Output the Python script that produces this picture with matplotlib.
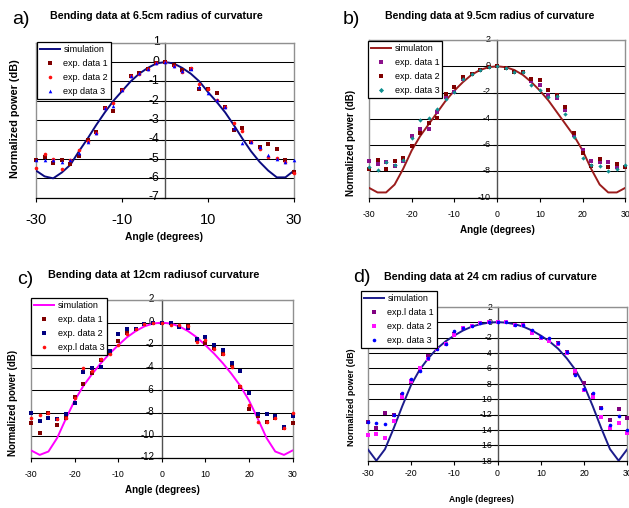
import matplotlib
matplotlib.use("Agg")
import matplotlib.pyplot as plt
from matplotlib.lines import Line2D
from matplotlib.transforms import ScaledTranslation

plt.rcParams['font.family'] = ['Liberation Sans', 'DejaVu Sans']

W, H = 629, 508

angles = list(range(-30, 31, 2))

# ---------------- panel a ----------------
sim_a = [-5.6, -5.9, -6.0, -5.7, -5.3, -4.6, -3.95, -3.25, -2.6, -2.0, -1.5, -1.0, -0.6, -0.3, -0.07, 0.0,
         -0.07, -0.3, -0.6, -1.0, -1.55, -2.05, -2.6, -3.25, -3.95, -4.6, -5.15, -5.6, -5.95, -5.95, -5.6]
a_exp1 = [-5.05, -4.9, -5.2, -5.05, -5.25, -4.85, -4.0, -3.6, -2.35, -2.5, -1.45, -0.72, -0.58, -0.36, -0.07, 0.0,
          -0.15, -0.4, -0.36, -1.4, -1.4, -1.62, -2.3, -3.5, -3.42, -4.1, -4.37, -4.23, -4.5, -5.03, -5.65]
a_exp2 = [-5.45, -4.75, -5.0, -5.5, -5.03, -4.55, -4.05, -3.65, -2.35, -2.1, -1.45, -0.72, -0.6, -0.36, -0.07, 0.0,
          -0.2, -0.5, -0.33, -1.15, -1.38, -1.95, -2.3, -3.17, -3.56, -4.15, -4.47, -4.9, -4.95, -5.15, -5.75]
a_exp3 = [-5.03, -5.03, -5.05, -5.15, -5.03, -4.68, -4.1, -3.65, -2.35, -2.25, -1.45, -0.72, -0.58, -0.36, -0.07, 0.0,
          -0.2, -0.45, -0.36, -1.3, -1.58, -1.96, -2.3, -3.42, -4.2, -4.15, -4.4, -4.82, -5.0, -5.15, -5.03]

# ---------------- panel b ----------------
sim_b = [-9.25, -9.6, -9.6, -9.0, -7.8, -6.4, -5.3, -4.4, -3.5, -2.6, -1.85, -1.2, -0.65, -0.28, -0.07, 0.0,
         -0.07, -0.28, -0.65, -1.2, -1.85, -2.6, -3.5, -4.4, -5.3, -6.4, -7.8, -9.0, -9.6, -9.6, -9.25]
b_exp1 = [-7.2, -7.45, -7.3, -7.6, -7.2, -5.3, -4.8, -4.75, -3.5, -2.3, -1.95, -1.0, -0.55, -0.28, -0.08, 0.0,
          -0.1, -0.4, -0.4, -1.15, -1.4, -2.2, -2.45, -3.3, -5.2, -6.4, -7.2, -7.3, -7.3, -7.65, -7.7]
b_exp2 = [-7.8, -7.15, -7.8, -7.2, -6.95, -6.1, -5.05, -4.3, -3.97, -2.1, -1.6, -0.8, -0.55, -0.28, -0.08, 0.0,
          -0.1, -0.4, -0.4, -0.95, -1.05, -1.8, -2.2, -3.1, -5.1, -6.6, -7.6, -7.05, -7.7, -7.4, -7.65]
b_exp3 = [-7.7, -7.9, -7.3, -7.5, -7.1, -5.45, -4.1, -3.97, -3.25, -2.5, -1.95, -1.0, -0.55, -0.28, -0.08, 0.0,
          -0.1, -0.4, -0.4, -1.4, -1.8, -2.3, -2.25, -3.6, -5.35, -6.95, -7.5, -7.55, -8.0, -7.85, -7.5]

# ---------------- panel c ----------------
sim_c = [-11.3, -11.7, -11.4, -10.2, -8.5, -6.9, -5.6, -4.55, -3.6, -2.75, -2.0, -1.3, -0.75, -0.33, -0.08, 0.0,
         -0.08, -0.33, -0.75, -1.3, -2.0, -2.75, -3.6, -4.55, -5.6, -6.9, -8.5, -10.2, -11.4, -11.7, -11.3]
c_exp1 = [-8.9, -9.8, -7.95, -9.05, -8.4, -6.6, -5.4, -4.5, -3.35, -2.7, -1.6, -0.9, -0.55, -0.15, -0.02, 0.0,
          -0.05, -0.35, -0.33, -1.55, -1.8, -2.25, -2.75, -3.75, -5.7, -7.6, -8.25, -8.75, -8.45, -9.3, -8.85]
c_exp2 = [-8.0, -8.7, -8.4, -8.5, -8.05, -7.1, -4.35, -4.0, -3.95, -2.5, -1.05, -0.6, -0.55, -0.15, -0.02, 0.0,
          -0.05, -0.4, -0.45, -1.45, -1.25, -2.0, -2.4, -3.55, -4.25, -6.25, -8.1, -8.1, -8.3, -9.2, -8.3]
c_exp3 = [-8.45, -8.15, -8.0, -8.55, -8.4, -6.7, -4.0, -4.25, -3.2, -2.75, -2.0, -1.0, -0.55, -0.15, -0.02, 0.0,
          -0.2, -0.2, -0.3, -1.75, -1.5, -2.35, -2.75, -3.95, -5.65, -7.25, -8.75, -8.75, -8.45, -9.35, -7.95]

# ---------------- panel d ----------------
sim_d = [-16.5, -18.0, -16.5, -13.8, -10.9, -8.2, -6.2, -4.7, -3.45, -2.5, -1.75, -1.1, -0.6, -0.27, -0.07, 0.0,
         -0.07, -0.27, -0.6, -1.1, -1.75, -2.5, -3.45, -4.7, -6.2, -8.2, -10.9, -13.8, -16.5, -18.0, -16.5]
d_exp1 = [-13.0, -13.8, -11.75, -12.0, -9.5, -7.75, -6.1, -4.4, -3.55, -2.85, -1.55, -0.8, -0.5, -0.15, 0.0, 0.0,
          0.0, -0.4, -0.4, -1.25, -2.0, -2.3, -2.65, -3.85, -6.6, -7.95, -9.5, -11.2, -12.65, -11.3, -12.4]
d_exp2 = [-14.7, -14.5, -15.0, -12.85, -9.7, -7.6, -5.9, -4.85, -3.55, -2.85, -1.7, -0.8, -0.5, -0.15, 0.0, 0.0,
          0.0, -0.4, -0.4, -1.45, -2.1, -2.45, -2.85, -4.0, -6.35, -8.8, -9.7, -12.3, -13.7, -13.15, -14.45]
d_exp3 = [-13.0, -13.15, -13.25, -12.0, -9.15, -7.4, -6.3, -4.6, -3.55, -2.85, -1.2, -0.8, -0.5, -0.15, 0.0, 0.0,
          0.0, -0.4, -0.4, -1.05, -1.9, -2.1, -2.75, -3.85, -6.9, -8.75, -9.25, -11.2, -13.4, -12.2, -13.95]

panels = [
    dict(rect=(36, 42.7, 294, 197.7), ylim=(-7, 1), ystep=1, xticks=[-30, -10, 10, 30],
         sim=sim_a, exps=[a_exp1, a_exp2, a_exp3],
         simc='#0b0b80', colors=['#800000', '#ff1010', '#0000ff'], markers=['s', 'o', '^'],
         labels=['simulation', 'exp. data 1', 'exp. data 2', 'exp data 3'],
         title='Bending data at 6.5cm radius of curvature', tpos=(156, 16), tfs=7.7,
         letter='a)', lpos=(21, 20), xlab=(164, 237), ylab=(15, 119), xlfs=7.4, ylfs=7.8,
         leg=(36.7, 41.7), xtfs=10.5, ytfs=8.8, xpad=8, yshift=1.8, ypad=1),
    dict(rect=(369, 40, 625.3, 197.7), ylim=(-10, 2), ystep=2, xticks=list(range(-30, 31, 10)),
         sim=sim_b, exps=[b_exp1, b_exp2, b_exp3],
         simc='#9b1c1c', colors=['#8b108b', '#800000', '#109090'], markers=['s', 's', 'D'],
         labels=['simulaton', 'exp. data 1', 'exp. data 2', 'exp. data 3'],
         title='Bending data at 9.5cm radius of curvature', tpos=(490, 16), tfs=7.6,
         letter='b)', lpos=(351, 19), xlab=(497, 230), ylab=(351, 143), xlfs=7.1, ylfs=7.05,
         leg=(368, 40.7), xtfs=6.3, ytfs=6.5, xpad=5.5, yshift=1.6, ypad=1.5),
    dict(rect=(31, 300, 292.7, 458.3), ylim=(-12, 2), ystep=2, xticks=list(range(-30, 31, 10)),
         sim=sim_c, exps=[c_exp1, c_exp2, c_exp3],
         simc='#ff00ff', colors=['#800000', '#000080', '#ff1010'], markers=['s', 's', 'o'],
         labels=['simulation', 'exp. data 1', 'exp. data 2', 'exp.l data 3'],
         title='Bending data at 12cm radiusof curvature', tpos=(154, 275), tfs=7.8,
         letter='c)', lpos=(25, 279), xlab=(162, 490), ylab=(13, 403), xlfs=7.1, ylfs=7.05,
         leg=(31, 298), xtfs=6.3, ytfs=7.0, xpad=5.5, yshift=1.9, ypad=2.5),
    dict(rect=(367.7, 306.7, 627.3, 460.7), ylim=(-18, 2), ystep=2, xticks=list(range(-30, 31, 10)),
         sim=sim_d, exps=[d_exp1, d_exp2, d_exp3],
         simc='#1c1c8c', colors=['#800080', '#ff10ff', '#0000ff'], markers=['s', 's', 'o'],
         labels=['simulation', 'exp.l data 1', 'exp. data 2', 'exp. data 3'],
         title='Bending data at 24 cm radius of curvature', tpos=(490, 277), tfs=7.65,
         letter='d)', lpos=(362, 278), xlab=(481, 500), ylab=(352, 397), xlfs=6.15, ylfs=6.4,
         leg=(360.7, 290.7), xtfs=6.3, ytfs=6.3, xpad=3, yshift=0.6, ypad=0.5),
]

fig = plt.figure(figsize=(W / 100, H / 100), dpi=100)
fig.patch.set_facecolor('white')


def fx(x):
    return x / W


def fy(y):
    return 1 - y / H


for p in panels:
    x0, y0, x1, y1 = p['rect']
    ax = fig.add_axes([fx(x0), fy(y1), (x1 - x0) / W, (y1 - y0) / H])
    ax.set_xlim(-30, 30)
    ax.set_ylim(*p['ylim'])
    ax.set_axisbelow(True)
    ax.spines['left'].set_position(('data', 0))
    yt = list(range(p['ylim'][0], p['ylim'][1] + 1, p['ystep']))
    ax.set_yticks(yt)
    ax.set_yticklabels([str(v) for v in yt])
    ax.set_xticks(p['xticks'])
    ax.set_xticklabels([str(v) for v in p['xticks']])
    ax.yaxis.grid(True, color='black', lw=0.75)
    ax.xaxis.grid(False)
    ax.spines['left'].set_color('#505050')
    ax.spines['left'].set_linewidth(1.0)
    for s in ['top', 'right']:
        ax.spines[s].set_color('#909090')
        ax.spines[s].set_linewidth(1.0)
    ax.spines['bottom'].set_color('black')
    ax.spines['bottom'].set_linewidth(0.9)
    ax.axvline(-30, color='#909090', lw=1.0, clip_on=False, zorder=2.5)
    ax.tick_params(axis='y', direction='out', length=3, width=0.8, pad=p['ypad'], colors='black',
                   labelsize=p['ytfs'])
    ax.tick_params(axis='x', direction='out', length=3, width=0.8, pad=p['xpad'], colors='black',
                   labelsize=p['xtfs'])
    shift = ScaledTranslation(0, p['yshift'] / 100, fig.dpi_scale_trans)
    for lab in ax.get_yticklabels():
        lab.set_transform(lab.get_transform() + shift)

    ax.plot(angles, p['sim'], color=p['simc'], lw=1.4, zorder=3, solid_capstyle='round')
    for ex, c, m in zip(p['exps'], p['colors'], p['markers']):
        ax.plot(angles, ex, linestyle='none', marker=m, color=c, ms=2.6 if m != 'D' else 2.2,
                markeredgewidth=0, zorder=4, clip_on=False)

    handles = [Line2D([0], [0], color=p['simc'], lw=1.4)]
    for c, m in zip(p['colors'], p['markers']):
        handles.append(Line2D([0], [0], linestyle='none', marker=m, color=c, ms=2.6, markeredgewidth=0))
    lg = fig.legend(handles, p['labels'], loc='upper left',
                    bbox_to_anchor=(fx(p['leg'][0]), fy(p['leg'][1])),
                    bbox_transform=fig.transFigure, borderaxespad=0, fontsize=6.5,
                    frameon=True, fancybox=False, edgecolor='black', framealpha=1,
                    handlelength=2.2, handletextpad=0.4, labelspacing=0.55,
                    borderpad=0.35)
    lg.get_frame().set_linewidth(0.9)
    lg.set_zorder(10)

    fig.text(fx(p['tpos'][0]), fy(p['tpos'][1]), p['title'], ha='center', va='center',
             fontsize=p['tfs'], fontweight='bold')
    fig.text(fx(p['lpos'][0]), fy(p['lpos'][1]), p['letter'], ha='center', va='center',
             fontsize=14)
    fig.text(fx(p['xlab'][0]), fy(p['xlab'][1]), 'Angle (degrees)', ha='center', va='center',
             fontsize=p['xlfs'], fontweight='bold')
    fig.text(fx(p['ylab'][0]), fy(p['ylab'][1]), 'Normalized power (dB)', ha='center', va='center',
             fontsize=p['ylfs'], fontweight='bold', rotation=90)

fig.savefig('out.png', dpi=100, facecolor='white')
